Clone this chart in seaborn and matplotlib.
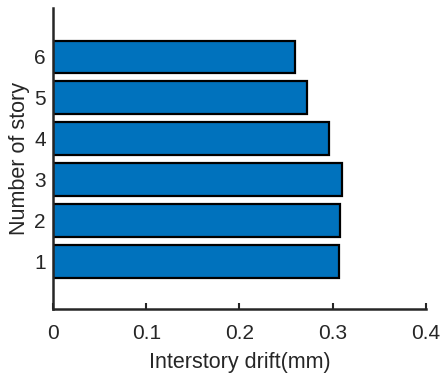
import numpy as np
import pandas as pd
import matplotlib
matplotlib.use('Agg')
import matplotlib.pyplot as plt
import seaborn as sns

# Дані: номер поверху та міжповерховий дрейф
stories = [1, 2, 3, 4, 5, 6]
drift = [0.3065, 0.308, 0.3098, 0.2965, 0.272, 0.2597]

df = pd.DataFrame({'story': stories, 'drift': drift})

sns.set_theme(style='white')
plt.rcParams['font.family'] = ['Liberation Sans', 'DejaVu Sans']

fig = plt.figure(figsize=(4.41, 3.76), dpi=100)
ax = fig.add_axes([0.120, 0.178, 0.846, 0.801])

sns.barplot(data=df, x='drift', y='story', orient='h', native_scale=True,
            color='#0072BD', saturation=1, width=0.8,
            edgecolor='black', linewidth=1.6, ax=ax)

ax.set_xlim(0, 0.4)
ax.set_ylim(-0.17, 7.2)
ax.set_xticks([0, 0.1, 0.2, 0.3, 0.4])
ax.set_xticklabels(['0', '0.1', '0.2', '0.3', '0.4'])
ax.set_yticks(stories)
ax.set_yticklabels([str(s) for s in stories])

ax.tick_params(direction='in', length=4, width=1.5, labelsize=15,
               colors='#262626', left=True, bottom=True)
ax.tick_params(axis='x', pad=11)
ax.tick_params(axis='y', pad=5)
for side in ['top', 'right']:
    ax.spines[side].set_visible(False)
for side in ['left', 'bottom']:
    ax.spines[side].set_linewidth(1.8)
    ax.spines[side].set_color('#262626')

ax.set_xlabel('Interstory drift(mm)', fontsize=15.5, color='#262626', labelpad=6)
ax.set_ylabel('Number of story', fontsize=15.5, color='#262626', labelpad=3)

fig.savefig('out.png', dpi=100)
